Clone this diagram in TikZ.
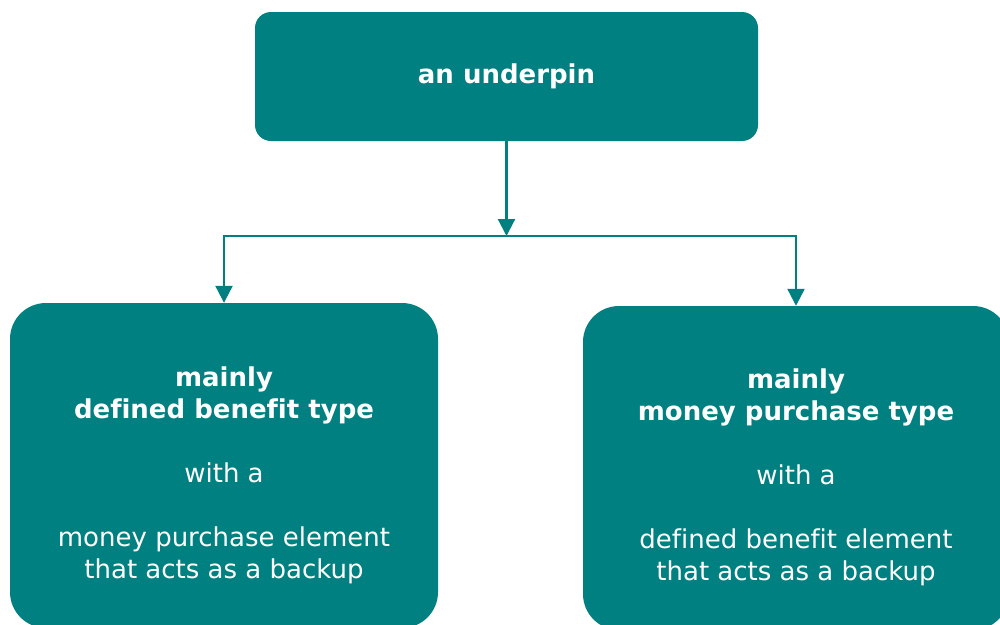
\documentclass[tikz,border=0pt]{standalone}
\usepackage{fontspec}
\setmainfont{DejaVu Sans}[Ligatures=NoCommon]
\usetikzlibrary{arrows.meta}
\definecolor{tealbox}{RGB}{0,128,128}

\begin{document}
\begin{tikzpicture}[x=1pt,y=-1pt,
  box/.style={fill=tealbox, draw=none, inner sep=0pt},
  txt/.style={text=white, align=center, inner sep=0pt,
    font=\fontsize{26}{32}\selectfont},
  conn/.style={draw=tealbox, line width=2.2pt},
  tip/.style={-{Triangle[width=17pt,length=17pt]}}]

  \useasboundingbox (0,0) rectangle (1000,624);

  % boxes
  \node[box, rounded corners=16pt, minimum width=503pt, minimum height=129pt]
    (T) at (506.5,76.5) {};
  \node[box, rounded corners=36pt, minimum width=428pt, minimum height=325pt]
    (L) at (224,465.5) {};
  \node[box, rounded corners=36pt, minimum width=426pt, minimum height=324pt]
    (R) at (796,468) {};

  % labels
  \node[txt] (Tt) at (T.center) {\bfseries an underpin};
  \node[txt] (Lt) at (224,475.5)
    {\textbf{mainly}\\ \textbf{defined benefit type}\\[32pt]
     with a\\[32pt]
     money purchase element\\ that acts as a backup};
  \node[txt] (Rt) at (796,477.5)
    {\textbf{mainly}\\ \textbf{money purchase type}\\[32pt]
     with a\\[32pt]
     defined benefit element\\ that acts as a backup};

  % connectors
  \coordinate (J) at (506.5,236);
  \draw[conn, tip] (T.south) -- (J);
  \draw[conn, tip] (J) -| (L.north);
  \draw[conn, tip] (J) -| (R.north);
\end{tikzpicture}
\end{document}
